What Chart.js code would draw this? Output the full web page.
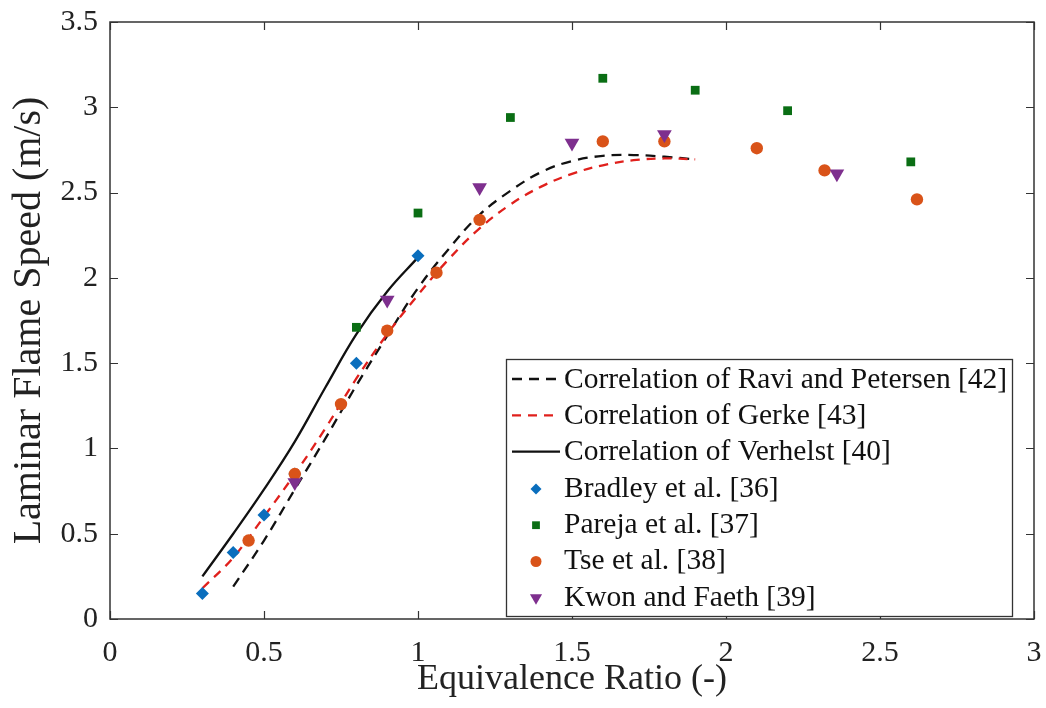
<!DOCTYPE html>
<html><head><meta charset="utf-8">
<script src="https://cdn.jsdelivr.net/npm/chart.js@4.4.1/dist/chart.umd.min.js"></script>
<style>html,body{margin:0;padding:0;background:#fff;}canvas{display:block;}</style>
</head><body>
<canvas id="c" width="1046" height="708"></canvas>
<script>
// ---- tick labels ----
const xTickValues = [0, 0.5, 1, 1.5, 2, 2.5, 3];
const xTickLabels = ['0', '0.5', '1', '1.5', '2', '2.5', '3'];
const yTickValues = [0, 0.5, 1, 1.5, 2, 2.5, 3, 3.5];
const yTickLabels = ['0', '0.5', '1', '1.5', '2', '2.5', '3', '3.5'];

// ---- correlations ----
const raviX = [0.4, 0.5, 0.6, 0.7, 0.8, 0.9, 1.0, 1.1, 1.2, 1.3, 1.4, 1.5, 1.6, 1.7, 1.8, 1.9];
const raviY = [0.19, 0.46, 0.76, 1.06, 1.37, 1.66, 1.94, 2.17, 2.37, 2.51, 2.62, 2.685, 2.715, 2.72, 2.71, 2.695];
const gerkeX = [0.3, 0.4, 0.5, 0.6, 0.7, 0.8, 0.9, 1.0, 1.1, 1.2, 1.3, 1.4, 1.5, 1.6, 1.7, 1.8, 1.9];
const gerkeY = [0.18, 0.36, 0.60, 0.85, 1.12, 1.41, 1.67, 1.90, 2.11, 2.29, 2.43, 2.535, 2.61, 2.66, 2.69, 2.70, 2.695];
const verhelstX = [0.3, 0.4, 0.5, 0.6, 0.7, 0.8, 0.9, 1.0];
const verhelstY = [0.25, 0.50, 0.76, 1.04, 1.36, 1.67, 1.92, 2.12];

// ---- measurements ----
const bradleyX = [0.3, 0.4, 0.5, 0.6, 0.8, 1.0];
const bradleyY = [0.15, 0.39, 0.61, 0.85, 1.50, 2.13];
const parejaX = [0.8, 1.0, 1.3, 1.6, 1.9, 2.2, 2.6];
const parejaY = [1.71, 2.38, 2.94, 3.17, 3.10, 2.98, 2.68];
const tseX = [0.45, 0.6, 0.75, 0.9, 1.06, 1.2, 1.6, 1.8, 2.1, 2.32, 2.62];
const tseY = [0.46, 0.85, 1.26, 1.69, 2.03, 2.34, 2.80, 2.80, 2.76, 2.63, 2.46];
const kwonX = [0.6, 0.9, 1.2, 1.5, 1.8, 2.36];
const kwonY = [0.80, 1.87, 2.53, 2.79, 2.84, 2.61];

const seriesLabels = [
  'Correlation of Ravi and Petersen [42]',
  'Correlation of Gerke [43]',
  'Correlation of Verhelst [40]',
  'Bradley et al. [36]',
  'Pareja et al. [37]',
  'Tse et al. [38]',
  'Kwon and Faeth [39]'
];

const zip = (xs, ys) => xs.map((x, i) => ({x: x, y: ys[i]}));
const SERIF = "'Liberation Serif', 'Times New Roman', serif";

function lineDs(label, xs, ys, color, dash, order) {
  return {type: 'line', label, data: zip(xs, ys), showLine: true, borderColor: color, backgroundColor: color,
    borderWidth: 2.3, borderDash: dash, pointRadius: 0, pointHoverRadius: 0,
    tension: 0.4, fill: false, order};
}
function markDs(label, xs, ys, color, style, radius, rotation, order) {
  return {type: 'scatter', label, data: zip(xs, ys), showLine: false, borderColor: color, backgroundColor: color,
    borderWidth: 0, pointStyle: style, pointRadius: radius, pointRotation: rotation, order};
}

const datasets = [
  lineDs(seriesLabels[0], raviX, raviY, '#111111', [10, 7], 12),
  lineDs(seriesLabels[1], gerkeX, gerkeY, '#e0201c', [9, 7], 11),
  lineDs(seriesLabels[2], verhelstX, verhelstY, '#111111', [], 10),
  markDs(seriesLabels[3], bradleyX, bradleyY, '#0a6ebd', 'rectRot', 6.5, 0, 4),
  markDs(seriesLabels[4], parejaX, parejaY, '#0a6e14', 'rect', 6.2, 0, 3),
  markDs(seriesLabels[5], tseX, tseY, '#d95319', 'circle', 6.2, 0, 2),
  markDs(seriesLabels[6], kwonX, kwonY, '#7e2f8e', 'triangle', 8.5, 180, 1)
];

const frame = {
  id: 'frame',
  afterDatasetsDraw(chart) {
    const {ctx, chartArea: a, scales: {x, y}} = chart;
    ctx.save();
    ctx.strokeStyle = '#333';
    ctx.lineWidth = 1.5;
    ctx.strokeRect(a.left, a.top, a.right - a.left, a.bottom - a.top);
    const tl = 8;
    ctx.beginPath();
    x.ticks.forEach(t => {
      const px = Math.round(x.getPixelForValue(t.value)) + 0.5;
      ctx.moveTo(px, a.bottom); ctx.lineTo(px, a.bottom - tl);
      ctx.moveTo(px, a.top); ctx.lineTo(px, a.top + tl);
    });
    y.ticks.forEach(t => {
      const py = Math.round(y.getPixelForValue(t.value)) + 0.5;
      ctx.moveTo(a.left, py); ctx.lineTo(a.left + tl, py);
      ctx.moveTo(a.right, py); ctx.lineTo(a.right - tl, py);
    });
    ctx.lineWidth = 1.2;
    ctx.stroke();
    ctx.restore();
  }
};

function drawMarker(ctx, style, r, rot, cx, cy) {
  ctx.beginPath();
  if (style === 'circle') {
    ctx.arc(cx, cy, r, 0, Math.PI * 2);
  } else if (style === 'rect') {
    const s = r * Math.SQRT1_2;
    ctx.rect(cx - s, cy - s, 2 * s, 2 * s);
  } else if (style === 'rectRot') {
    ctx.moveTo(cx, cy - r); ctx.lineTo(cx + r, cy); ctx.lineTo(cx, cy + r); ctx.lineTo(cx - r, cy); ctx.closePath();
  } else if (style === 'triangle') {
    let rad = rot * Math.PI / 180;
    for (let k = 0; k < 3; k++) {
      const px = cx + Math.sin(rad) * r, py = cy - Math.cos(rad) * r;
      if (k === 0) ctx.moveTo(px, py); else ctx.lineTo(px, py);
      rad += 2 * Math.PI / 3;
    }
    ctx.closePath();
  }
  ctx.fill();
}

const boxLegend = {
  id: 'boxLegend',
  afterDraw(chart) {
    const ctx = chart.ctx;
    const L = 506, T = 359, R = 1012, B = 616;
    ctx.save();
    ctx.fillStyle = '#fff';
    ctx.fillRect(L, T, R - L, B - T);
    ctx.strokeStyle = '#333';
    ctx.lineWidth = 1.3;
    ctx.strokeRect(L + 0.5, T + 0.5, R - L, B - T);
    ctx.font = '29.5px ' + SERIF;
    ctx.textBaseline = 'middle';
    ctx.textAlign = 'left';
    chart.data.datasets.forEach((ds, i) => {
      const cy = 379 + i * 36.3;
      if (ds.showLine) {
        ctx.strokeStyle = ds.borderColor;
        ctx.lineWidth = 2.3;
        ctx.setLineDash(ds.borderDash || []);
        ctx.beginPath(); ctx.moveTo(512, cy); ctx.lineTo(560, cy); ctx.stroke();
        ctx.setLineDash([]);
      } else {
        ctx.fillStyle = ds.backgroundColor;
        const rr = ds.pointStyle === 'triangle' ? 7 : 5.5;
        drawMarker(ctx, ds.pointStyle, rr, ds.pointRotation || 0, 536, cy + 1);
      }
      ctx.fillStyle = '#111';
      ctx.fillText(ds.label, 564, cy + 1);
    });
    ctx.restore();
  }
};

function zeroPad(s) { s.paddingTop = 0; s.paddingBottom = 0; s.paddingLeft = 0; s.paddingRight = 0; }

new Chart(document.getElementById('c'), {
  type: 'scatter',
  data: {datasets},
  options: {
    responsive: false,
    devicePixelRatio: 1,
    animation: false,
    layout: {padding: {left: 0, top: 22, right: 12, bottom: 0}},
    plugins: {legend: {display: false}, tooltip: {enabled: false}},
    scales: {
      x: {
        type: 'linear', min: 0, max: 3,
        afterBuildTicks: s => { s.ticks = xTickValues.map(v => ({value: v})); },
        afterFit: s => { s.height = 89; zeroPad(s); },
        grid: {display: false, drawTicks: false},
        border: {display: false},
        ticks: {padding: 16, color: '#222', font: {family: SERIF, size: 30},
          callback: v => xTickLabels[xTickValues.indexOf(v)], maxRotation: 0, autoSkip: false},
        title: {display: true, text: 'Equivalence Ratio (-)', color: '#222',
          font: {family: SERIF, size: 36}, padding: {top: 0, bottom: 7}}
      },
      y: {
        type: 'linear', min: 0, max: 3.5,
        afterBuildTicks: s => { s.ticks = yTickValues.map(v => ({value: v})); },
        afterFit: s => { s.width = 110; zeroPad(s); },
        grid: {display: false, drawTicks: false},
        border: {display: false},
        ticks: {padding: 12, color: '#222', font: {family: SERIF, size: 30},
          callback: v => yTickLabels[yTickValues.indexOf(v)], autoSkip: false},
        title: {display: true, text: 'Laminar Flame Speed (m/s)', color: '#222',
          font: {family: SERIF, size: 40}, padding: {top: 5, bottom: 0}}
      }
    }
  },
  plugins: [frame, boxLegend]
});
</script>
</body></html>
